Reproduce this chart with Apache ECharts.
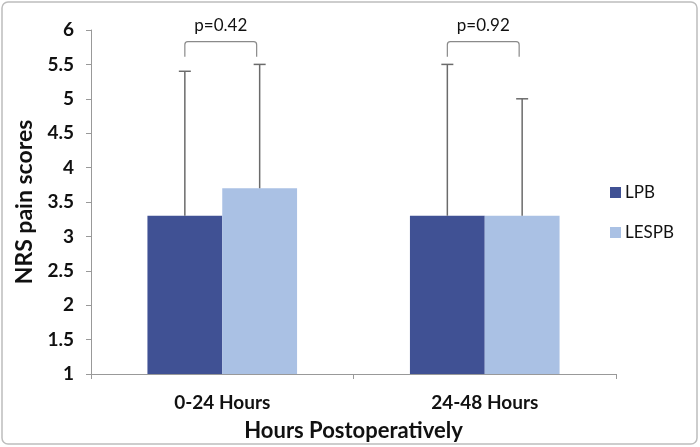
<!DOCTYPE html>
<html>
<head>
<meta charset="utf-8">
<script src="https://cdn.jsdelivr.net/npm/echarts@6/dist/echarts.min.js"></script>
<style>
  html, body { margin: 0; padding: 0; background: #fff; }
  #main { width: 700px; height: 447px; }
</style>
</head>
<body>
<div id="main"></div>
<script>
// data
var categories = ['0-24 Hours', '24-48 Hours']
var seriesNames = ['LPB', 'LESPB']
var lpbMeans = [3.3, 3.3]
var lespbMeans = [3.7, 3.3]
var lpbUpper = [5.4, 5.5]
var lespbUpper = [5.5, 5.0]
var pLabels = ['p=0.42', 'p=0.92']

var colors = ['#405194', '#aac1e4']
var gapRatio = 0.43
var fontFam = 'Lato, "Open Sans", sans-serif'

var chart = echarts.init(document.getElementById('main'))

function barOffset (api, idx) {
  var band = api.size([1, 0])[0]
  var barW = band * (1 - gapRatio) / 2
  return (idx === 0 ? -0.5 : 0.5) * barW
}

function errorItem (seriesIdx) {
  return function (params, api) {
    var ci = api.value(0)
    var base = api.coord([ci, api.value(1)])
    var top = api.coord([ci, api.value(2)])
    var x = base[0] + barOffset(api, seriesIdx)
    var style = { stroke: '#6b6b6b', lineWidth: 1.5 }
    return {
      type: 'group',
      children: [
        { type: 'line', shape: { x1: x, y1: base[1], x2: x, y2: top[1] }, style: style },
        { type: 'line', shape: { x1: x - 6, y1: top[1], x2: x + 6, y2: top[1] }, style: style }
      ]
    }
  }
}

var errLpb = categories.map(function (c, i) { return [i, lpbMeans[i], lpbUpper[i]] })
var errLespb = categories.map(function (c, i) { return [i, lespbMeans[i], lespbUpper[i]] })
var bracketData = categories.map(function (c, i) { return [i, pLabels[i]] })

var option = {
  animation: false,
  color: colors,
  graphic: [{
    type: 'rect',
    shape: { x: 2, y: 2, width: 695, height: 442, r: 6 },
    style: { fill: 'none', stroke: '#bdbdbd', lineWidth: 1.5 },
    silent: true
  }],
  grid: { left: 91, right: 84, top: 30, bottom: 71 },
  legend: {
    orient: 'vertical',
    left: 605,
    top: 179,
    itemWidth: 11,
    itemHeight: 11,
    itemGap: 23,
    icon: 'rect',
    data: seriesNames,
    textStyle: { fontFamily: fontFam, fontSize: 17, color: '#111', padding: [0, 0, 0, -1] }
  },
  xAxis: {
    type: 'category',
    data: categories,
    name: 'Hours Postoperatively',
    nameLocation: 'middle',
    nameGap: 46,
    nameTextStyle: { fontFamily: fontFam, fontSize: 22, fontWeight: 'bold', color: '#111' },
    axisLine: { lineStyle: { color: '#999' } },
    axisTick: { show: true, length: 5, lineStyle: { color: '#999' } },
    axisLabel: { fontFamily: fontFam, fontSize: 19, fontWeight: 'bold', color: '#111', margin: 19 }
  },
  yAxis: {
    type: 'value',
    min: 1,
    max: 6,
    interval: 0.5,
    name: 'NRS pain scores',
    nameLocation: 'middle',
    nameGap: 54,
    nameTextStyle: { fontFamily: fontFam, fontSize: 23, fontWeight: 'bold', color: '#111' },
    axisLine: { show: true, lineStyle: { color: '#999' } },
    axisTick: { show: true, length: 5, lineStyle: { color: '#999' } },
    splitLine: { show: false },
    axisLabel: { fontFamily: fontFam, fontSize: 19, fontWeight: 'bold', color: '#111', margin: 17 }
  },
  series: [
    {
      name: seriesNames[0],
      type: 'bar',
      data: lpbMeans,
      barGap: '0%',
      barCategoryGap: (gapRatio * 100) + '%',
      itemStyle: { color: colors[0] }
    },
    {
      name: seriesNames[1],
      type: 'bar',
      data: lespbMeans,
      barGap: '0%',
      barCategoryGap: (gapRatio * 100) + '%',
      itemStyle: { color: colors[1] }
    },
    {
      type: 'custom',
      renderItem: errorItem(0),
      data: errLpb,
      z: 5
    },
    {
      type: 'custom',
      renderItem: errorItem(1),
      data: errLespb,
      z: 5
    },
    {
      // significance brackets with p values
      type: 'custom',
      clip: false,
      z: 5,
      data: bracketData,
      renderItem: function (params, api) {
        var ci = api.value(0)
        var x1 = api.coord([ci, 1])[0] + barOffset(api, 0)
        var x2 = api.coord([ci, 1])[0] + barOffset(api, 1) - 3
        var yTop = api.coord([ci, 5.83])[1]
        var yFoot = api.coord([ci, 5.61])[1]
        var r = 3
        return {
          type: 'group',
          children: [
            {
              type: 'path',
              shape: {
                pathData: 'M' + x1 + ' ' + yFoot + ' L' + x1 + ' ' + (yTop + r) +
                  ' Q' + x1 + ' ' + yTop + ' ' + (x1 + r) + ' ' + yTop +
                  ' L' + (x2 - r) + ' ' + yTop +
                  ' Q' + x2 + ' ' + yTop + ' ' + x2 + ' ' + (yTop + r) +
                  ' L' + x2 + ' ' + yFoot
              },
              style: { fill: 'none', stroke: '#8a8a8a', lineWidth: 1.2 }
            },
            {
              type: 'text',
              style: {
                text: bracketData[params.dataIndex][1],
                x: (x1 + x2) / 2,
                y: yTop - 8,
                align: 'center',
                verticalAlign: 'bottom',
                fontFamily: fontFam,
                fontSize: 17,
                fill: '#111'
              }
            }
          ]
        }
      }
    }
  ]
}

chart.setOption(option)
</script>
</body>
</html>
